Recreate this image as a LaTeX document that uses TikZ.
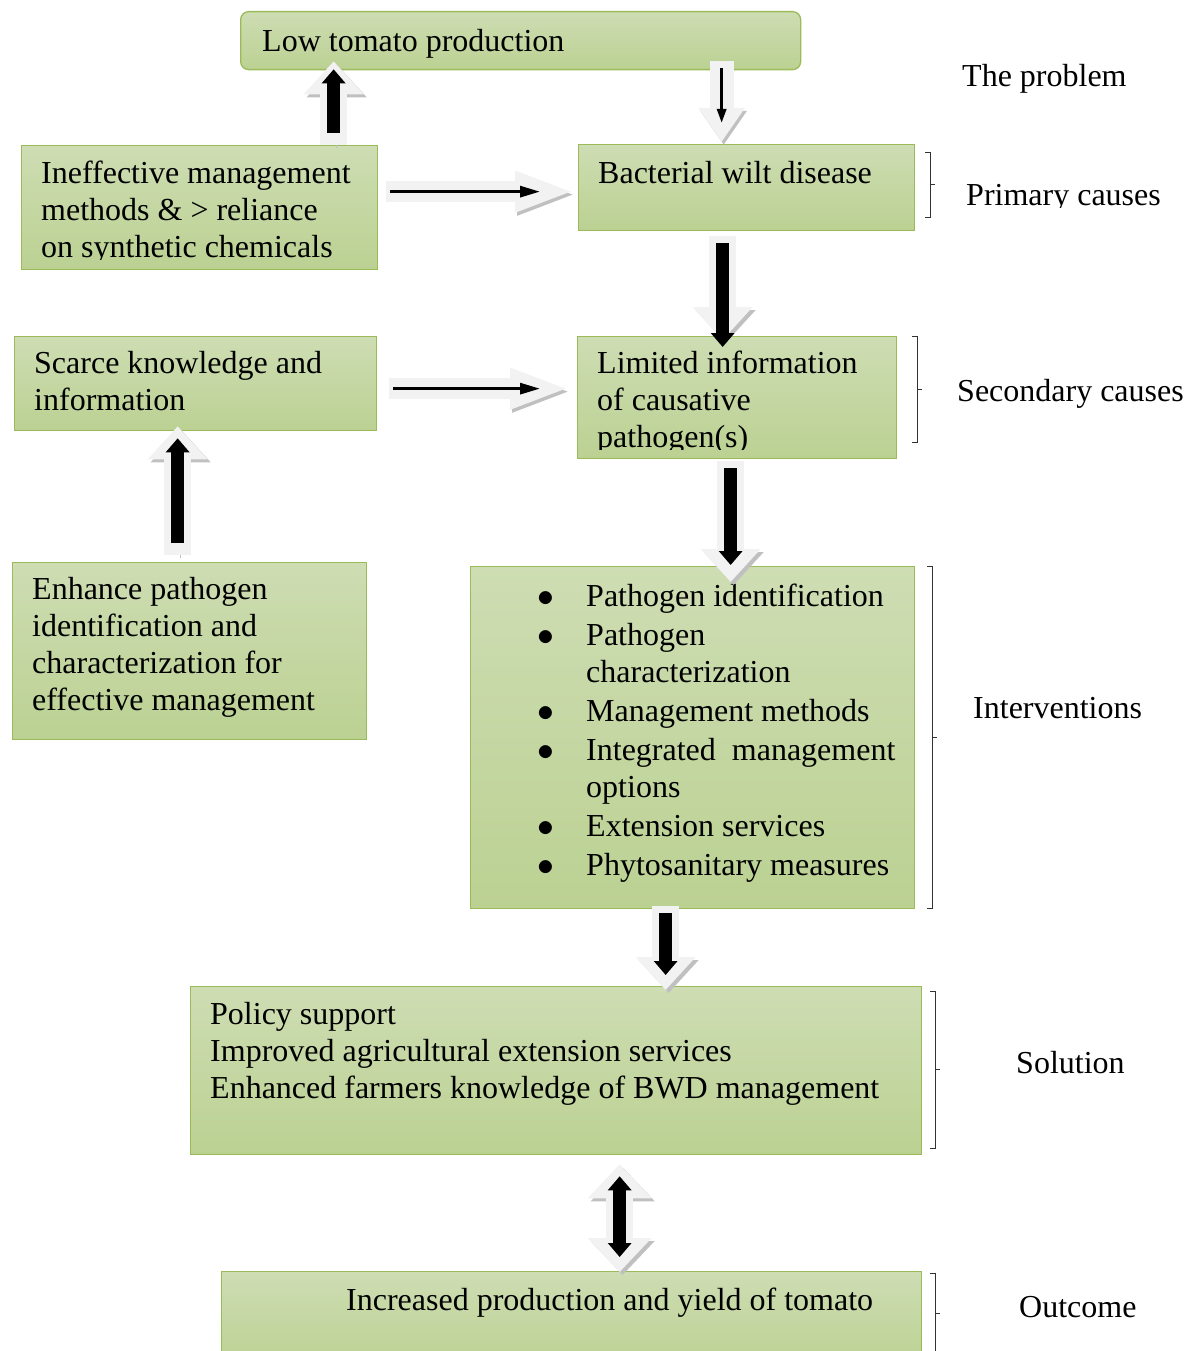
\documentclass[tikz,border=0pt]{standalone}
\usepackage{fontspec}
\usepackage{graphicx}
\setmainfont{Liberation Serif}
\usetikzlibrary{arrows.meta}
\definecolor{boxline}{RGB}{155,187,89}
\definecolor{boxtop}{RGB}{206,221,179}
\definecolor{boxbot}{RGB}{187,209,146}
\definecolor{arrfill}{RGB}{242,242,242}
\definecolor{arrshade}{RGB}{192,192,192}
\newcommand{\bigdot}{\scalebox{1.35}{$\bullet$}}
\begin{document}
\begin{tikzpicture}[x=1pt,y=-1pt,
    box/.style={draw=boxline,line width=1.3pt,top color=boxtop,bottom color=boxbot,anchor=north west,inner sep=0pt},
    txt/.style={anchor=base west,inner sep=0pt,align=left,font=\fontsize{32}{37}\selectfont},
    fat/.style={draw=arrfill,line width=27pt,-{Triangle[width=58pt,length=33pt]},
        preaction={draw=arrshade,transform canvas={shift={(3pt,-3pt)}}}},
    slim/.style={draw=arrfill,line width=21pt,-{Triangle[width=37pt,length=60pt]},
        preaction={draw=arrshade,transform canvas={shift={(2pt,-3pt)}}}},
    core/.style={draw=black,line width=13pt,-{Triangle[width=23pt,length=14pt]}},
    thin/.style={draw=black,line width=3pt,-{Triangle[width=11pt,length=20pt]}},
    brk/.style={draw=black!80,line width=1pt}]
\useasboundingbox (0,0) rectangle (1195,1351);

% boxes
\node[box,rounded corners=8pt,minimum width=560pt,minimum height=58pt] (low) at (240,11) {};
\node[box,minimum width=356pt,minimum height=124pt] (inef) at (21,145) {};
\node[box,minimum width=336pt,minimum height=86pt] (bwd) at (578,144) {};
\node[box,minimum width=362pt,minimum height=94pt] (scarce) at (14,336) {};
\node[box,minimum width=319pt,minimum height=122pt] (limited) at (577,336) {};
\node[box,minimum width=354pt,minimum height=177pt] (enhance) at (12,562) {};
\node[box,minimum width=444pt,minimum height=342pt] (interv) at (470,566) {};
\node[box,minimum width=731pt,minimum height=168pt] (policy) at (190,986) {};
\node[box,minimum width=700pt,minimum height=95pt] (outcome) at (221,1271) {};

% box texts (anchored on the last baseline)
\node[txt] (lowtxt) at (262,52) {Low tomato production};
\begin{scope}
  \clip (0,0) rectangle (1195,259);
  \node[txt] (ineftxt) at (41,257) {Ineffective management\\methods \& > reliance\\on synthetic chemicals};
\end{scope}
\node[txt] (bwdtxt) at (598,183) {Bacterial wilt disease};
\node[txt] (scarcetxt) at (34,410) {Scarce knowledge and\\information};
\begin{scope}
  \clip (0,0) rectangle (1195,449);
  \node[txt] (limitedtxt) at (597,447) {Limited information\\of causative\\pathogen(s)};
\end{scope}
\node[txt] (enhancetxt) at (32,710) {Enhance pathogen\\identification and\\characterization for\\effective management};
\node[txt] (intervtxt) at (537,606) {\begin{tabular}[t]{@{}p{49pt}@{}l@{}}
  \bigdot & Pathogen identification\\[2pt]
  \bigdot & Pathogen\\
          & characterization\\[2pt]
  \bigdot & Management methods\\[2pt]
  \bigdot & Integrated\ \ management\\
          & options\\[2pt]
  \bigdot & Extension services\\[2pt]
  \bigdot & Phytosanitary measures
\end{tabular}};
\node[txt] (policytxt) at (210,1098) {Policy support\\Improved agricultural extension services\\Enhanced farmers knowledge of BWD management};
\node[txt] (outcometxt) at (346,1310) {Increased production and yield of tomato};

% side labels
\node[txt] (problem) at (962,87) {The problem};
\begin{scope}
  \clip (0,0) rectangle (1195,207);
  \node[txt] (primary) at (966,205) {Primary causes};
\end{scope}
\node[txt] (secondary) at (957,401) {Secondary causes};
\node[txt] (interventions) at (973,718) {Interventions};
\node[txt] (solution) at (1016,1073) {Solution};
\node[txt] (result) at (1019,1317) {Outcome};

\foreach \bx/\ya/\yb in {930/153/217,917/336/442,932/566/908,935/991/1148,935/1273/1353}
  \draw[brk] (\bx-5,\ya) -- (\bx,\ya) -- (\bx,\yb) -- (\bx-5,\yb)
    (\bx,{(\ya+\yb)/2}) -- (\bx+5,{(\ya+\yb)/2});

% arrows
\draw[fat] ([xshift=134pt]inef.north) -- ([xshift=-187pt,yshift=9pt]low.south);
\draw[core] ([xshift=134pt,yshift=12pt]inef.north) -- ([xshift=-187pt,yshift=1pt]low.south);
\draw[slim,-{Triangle[width=44pt,length=34pt]},line width=24pt] ([xshift=201pt,yshift=9pt]low.south) -- ([xshift=-25pt,yshift=2pt]bwd.north);
\draw[thin,-{Triangle[width=9pt,length=14pt]}] ([xshift=201pt,yshift=2pt]low.south) -- ([xshift=-25pt,yshift=21pt]bwd.north);
\draw[slim] ([xshift=8pt,yshift=16pt]inef.east) -- ([xshift=-3pt,yshift=-4pt]bwd.west);
\draw[thin] ([xshift=12pt,yshift=16pt]inef.east) -- ([xshift=-38pt,yshift=-4pt]bwd.west);
\draw[fat] ([xshift=-24pt,yshift=-5pt]bwd.south) -- ([xshift=-14.5pt,yshift=-4pt]limited.north);
\draw[core] ([xshift=-24pt,yshift=-12pt]bwd.south) -- ([xshift=-14.5pt,yshift=-11pt]limited.north);
\draw[slim] ([xshift=12pt,yshift=-5pt]scarce.east) -- ([xshift=-7pt,yshift=9pt]limited.west);
\draw[thin] ([xshift=16pt,yshift=-5pt]scarce.east) -- ([xshift=-37pt,yshift=9pt]limited.west);
\draw[fat] ([xshift=-12pt,yshift=7pt]enhance.north) -- ([xshift=-18pt,yshift=5pt]scarce.south);
\draw[core] ([xshift=-12pt,yshift=19pt]enhance.north) -- ([xshift=-18pt,yshift=-7pt]scarce.south);
\draw[fat] ([xshift=-6.5pt,yshift=-2pt]limited.south) -- ([xshift=38pt,yshift=-16pt]interv.north);
\draw[core] ([xshift=-6.5pt,yshift=-9pt]limited.south) -- ([xshift=38pt,yshift=1pt]interv.north);
\draw[fat] ([xshift=-27pt,yshift=3pt]interv.south) -- ([xshift=109.5pt,yshift=-4pt]policy.north);
\draw[core] ([xshift=-27pt,yshift=-4pt]interv.south) -- ([xshift=109.5pt,yshift=11pt]policy.north);
\draw[fat,{Triangle[width=62pt,length=34pt]}-{Triangle[width=62pt,length=34pt]}] ([xshift=63.5pt,yshift=-9pt]policy.south) -- ([xshift=48pt,yshift=-1pt]outcome.north);
\draw[core,{Triangle[width=23pt,length=14pt]}-{Triangle[width=23pt,length=14pt]}] ([xshift=63.5pt,yshift=-21pt]policy.south) -- ([xshift=48pt,yshift=14pt]outcome.north);
\end{tikzpicture}
\end{document}
